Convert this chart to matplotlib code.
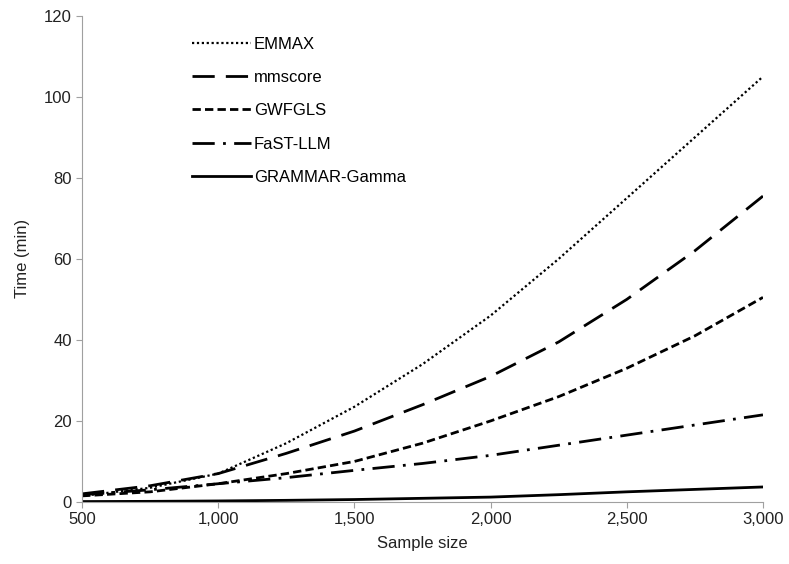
import matplotlib.pyplot as plt
from matplotlib.ticker import FuncFormatter

plt.rcParams['font.family'] = ['Liberation Sans', 'DejaVu Sans']

sample_size = [500, 750, 1000, 1250, 1500, 1750, 2000, 2250, 2500, 2750, 3000]
emmax = [1.5, 3.5, 7, 14.5, 23.5, 34, 46, 60, 75, 90, 105]
mmscore = [2, 4, 7, 12, 17.5, 24, 31, 39.5, 50, 62, 75.5]
gwfgls = [1.5, 2.5, 4.5, 7, 10, 14.5, 20, 26, 33, 41, 50.5]
fastlmm = [1.8, 3, 4.5, 6, 7.8, 9.5, 11.5, 14, 16.5, 19, 21.5]
grammar = [0.1, 0.15, 0.25, 0.4, 0.6, 0.9, 1.2, 1.8, 2.5, 3.1, 3.7]

fig = plt.figure(figsize=(7.89, 5.64), dpi=100)
ax = fig.add_axes([0.104, 0.11, 0.863, 0.862])

ax.plot(sample_size, emmax, color='black', lw=1.6, linestyle=(0, (1, 1.2)), label='EMMAX')
ax.plot(sample_size, mmscore, color='black', lw=2, linestyle=(0, (8, 4)), label='mmscore')
ax.plot(sample_size, gwfgls, color='black', lw=2, linestyle=(0, (3, 1.5)), label='GWFGLS')
ax.plot(sample_size, fastlmm, color='black', lw=2, linestyle=(0, (8, 3, 1, 3)), label='FaST-LLM')
ax.plot(sample_size, grammar, color='black', lw=2, linestyle='-', label='GRAMMAR-Gamma')

ax.set_xlim(500, 3000)
ax.set_ylim(0, 120)
ax.set_xticks(range(500, 3001, 500))
ax.set_yticks(range(0, 121, 20))
ax.xaxis.set_major_formatter(FuncFormatter(lambda v, p: f'{int(v):,}'))

for s in ['top', 'right']:
    ax.spines[s].set_visible(False)
for s in ['left', 'bottom']:
    ax.spines[s].set_color('#a0a0a0')
ax.tick_params(colors='#a0a0a0', labelcolor='#222222', labelsize=12, length=4)

ax.set_xlabel('Sample size', fontsize=12, color='#222222', labelpad=6)
ax.set_ylabel('Time (min)', fontsize=12, color='#222222', labelpad=10)

ax.legend(loc='upper left', bbox_to_anchor=(0.14, 0.988), frameon=False, fontsize=12,
          handlelength=3.5, handletextpad=0.2, labelspacing=1.1)

fig.savefig('out.png', dpi=100)
